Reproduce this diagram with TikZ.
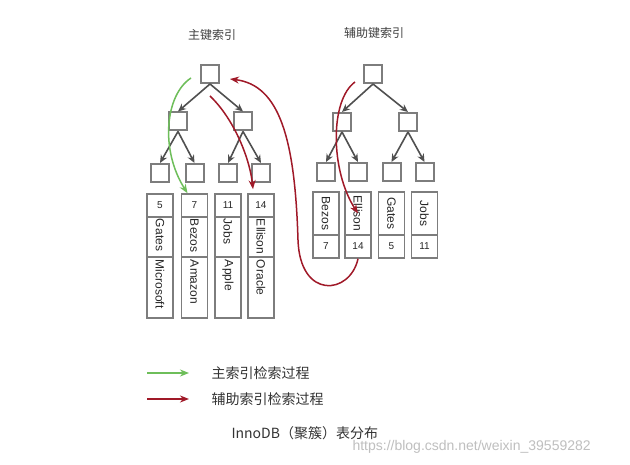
\documentclass[tikz,border=0pt]{standalone}
\usepackage{fontspec}
\setmainfont{Liberation Sans}
\newfontfamily\cjk{Noto Sans CJK SC}
\usetikzlibrary{arrows.meta}
\definecolor{boxgray}{RGB}{125,125,125}
\definecolor{arrowgray}{RGB}{80,80,80}
\definecolor{pkgreen}{RGB}{110,190,90}
\definecolor{skred}{RGB}{160,25,40}
\newcommand\vlabel[2]{\rotatebox{-90}{\makebox[#1][l]{#2}}}
\tikzset{
  tnode/.style={draw=boxgray,line width=2pt,fill=white,minimum size=18pt,inner sep=0pt},
  cell/.style={draw=boxgray,line width=1.6pt,minimum width=26pt,inner sep=0pt,text=black!85,font=\fontsize{12}{12}\selectfont},
  numcell/.style={cell,minimum height=23pt,font=\fontsize{10}{10}\selectfont},
  link/.style={draw=arrowgray,line width=1.6pt,-{Stealth[length=8pt,width=7pt]}},
  pkpath/.style={pkgreen,line width=1.5pt,-{Stealth[length=9pt,width=7pt]}},
  skpath/.style={skred,line width=1.5pt,-{Stealth[length=9pt,width=7pt]}},
  title/.style={text=black!75,font=\cjk\fontsize{12}{12}\selectfont},
}
\begin{document}
\begin{tikzpicture}[x=1pt,y=-1pt]
\useasboundingbox[fill=white] (0,0) rectangle (630,465);
% primary key tree
\node[title] (pk-title) at (212,35) {主键索引};
\node[tnode] (pk-root) at (210,74) {};
\node[tnode] (pk-l) at (178,121.5) {};
\node[tnode] (pk-r) at (243,121.5) {};
\node[tnode] (pk-leaf-1) at (160,173) {};
\node[tnode] (pk-leaf-2) at (194.5,173) {};
\node[tnode] (pk-leaf-3) at (228,173) {};
\node[tnode] (pk-leaf-4) at (261,173) {};
\draw[link] (pk-root.south) -- (pk-l.north);
\draw[link] (pk-root.south) -- (pk-r.north);
\draw[link] (pk-l.south) -- (pk-leaf-1.north);
\draw[link] (pk-l.south) -- (pk-leaf-2.north);
\draw[link] (pk-r.south) -- (pk-leaf-3.north);
\draw[link] (pk-r.south) -- (pk-leaf-4.north);
% primary key rows
\node[numcell] (pk-num-1) at (160,205.5) {5};
\node[cell,minimum height=40pt] (pk-name-1) at (160,237) {\vlabel{36pt}{Gates}};
\node[cell,minimum height=61pt] (pk-co-1) at (160,287.5) {\vlabel{55pt}{Microsoft}};
\node[numcell] (pk-num-2) at (194.5,205.5) {7};
\node[cell,minimum height=40pt] (pk-name-2) at (194.5,237) {\vlabel{36pt}{Bezos}};
\node[cell,minimum height=61pt] (pk-co-2) at (194.5,287.5) {\vlabel{55pt}{Amazon}};
\node[numcell] (pk-num-3) at (228,205.5) {11};
\node[cell,minimum height=40pt] (pk-name-3) at (228,237) {\vlabel{36pt}{Jobs}};
\node[cell,minimum height=61pt] (pk-co-3) at (228,287.5) {\vlabel{55pt}{Apple}};
\node[numcell] (pk-num-4) at (261,205.5) {14};
\node[cell,minimum height=40pt] (pk-name-4) at (261,237) {\vlabel{36pt}{Ellison}};
\node[cell,minimum height=61pt] (pk-co-4) at (261,287.5) {\vlabel{55pt}{Oracle}};
% secondary key tree
\node[title] (sk-title) at (374,33) {辅助键索引};
\node[tnode] (sk-root) at (373,74) {};
\node[tnode] (sk-l) at (342,122) {};
\node[tnode] (sk-r) at (408,122) {};
\node[tnode] (sk-leaf-1) at (326,172) {};
\node[tnode] (sk-leaf-2) at (358,172) {};
\node[tnode] (sk-leaf-3) at (391.5,172) {};
\node[tnode] (sk-leaf-4) at (424.5,172) {};
\draw[link] (sk-root.south) -- (sk-l.north);
\draw[link] (sk-root.south) -- (sk-r.north);
\draw[link] (sk-l.south) -- (sk-leaf-1.north);
\draw[link] (sk-l.south) -- (sk-leaf-2.north);
\draw[link] (sk-r.south) -- (sk-leaf-3.north);
\draw[link] (sk-r.south) -- (sk-leaf-4.north);
% secondary key rows
\node[cell,minimum height=43pt] (sk-name-1) at (326,213.5) {\rotatebox{-90}{Bezos}};
\node[numcell] (sk-num-1) at (326,246.5) {7};
\node[cell,minimum height=43pt] (sk-name-2) at (358,213.5) {\rotatebox{-90}{Ellison}};
\node[numcell] (sk-num-2) at (358,246.5) {14};
\node[cell,minimum height=43pt] (sk-name-3) at (391.5,213.5) {\rotatebox{-90}{Gates}};
\node[numcell] (sk-num-3) at (391.5,246.5) {5};
\node[cell,minimum height=43pt] (sk-name-4) at (424.5,213.5) {\rotatebox{-90}{Jobs}};
\node[numcell] (sk-num-4) at (424.5,246.5) {11};
% search paths
\draw[pkpath] ([xshift=-9pt,yshift=-4pt]pk-root.west) .. controls (165,95) and (160,150) .. ([xshift=-7pt]pk-num-2.north);
\draw[skpath] ([yshift=-12pt]pk-root.south) .. controls (235,120) and (250,160) .. ([xshift=-8pt,yshift=4pt]pk-num-4.north);
\draw[skpath] ([xshift=-8pt,yshift=-8pt]sk-root.west) .. controls (330,100) and (330,170) .. (sk-name-2.center);
\draw[skpath] (sk-num-2.south) .. controls (350,295) and (300,300) .. (298,240)
  .. controls (295,140) and (280,85) .. ([xshift=10pt,yshift=-5pt]pk-root.east);
% legend
\coordinate (lg-g1) at (147,373);
\coordinate (lg-g2) at (189,373);
\coordinate (lg-r1) at (147,399);
\coordinate (lg-r2) at (189,399);
\draw[pkpath] (lg-g1) -- (lg-g2);
\draw[skpath] (lg-r1) -- (lg-r2);
\node[anchor=west,text=black!80,font=\cjk\fontsize{14}{14}\selectfont] (lg-pk) at (208,373) {主索引检索过程};
\node[anchor=west,text=black!80,font=\cjk\fontsize{14}{14}\selectfont] (lg-sk) at (208,399) {辅助索引检索过程};
\node[anchor=west,text=black!80,font=\cjk\fontsize{14}{14}\selectfont] (caption) at (228,433) {InnoDB（聚簇）表分布};
\node[anchor=west,text=black!25,font=\fontsize{14}{14}\selectfont] (mark) at (349,447) {https://blog.csdn.net/weixin\_39559282};
\end{tikzpicture}
\end{document}
